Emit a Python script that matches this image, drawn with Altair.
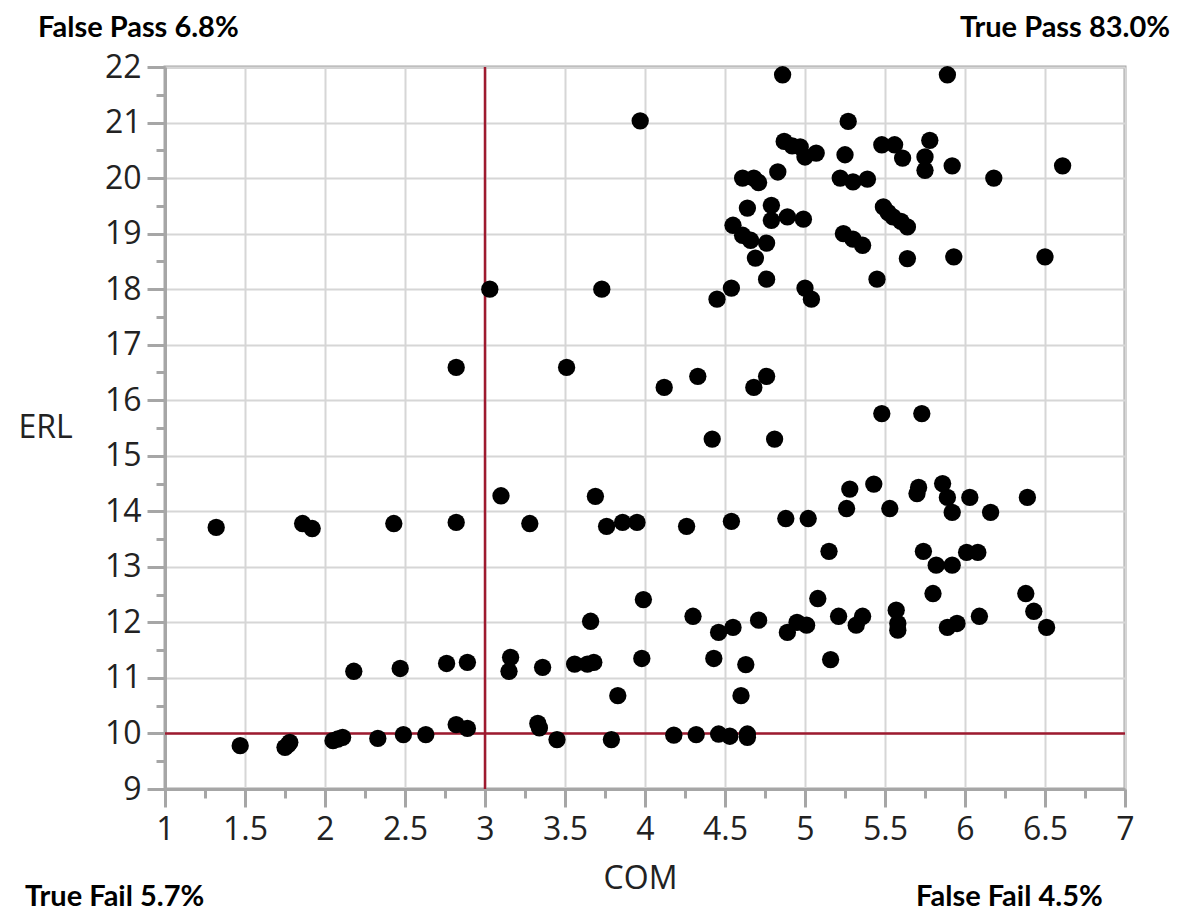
import altair as alt
import pandas as pd

# ---- data ----
com = [
    1.32, 1.86, 1.92, 2.43, 2.82, 2.18, 2.47, 2.76, 2.89, 2.82, 2.82, 2.89,
    1.47, 1.75, 1.78, 1.77, 2.05, 2.08, 2.11, 2.33, 2.49, 2.63,
    3.45, 3.79, 4.18, 4.32, 4.46, 4.53, 4.64, 4.64,
    3.33, 3.34, 3.16, 3.15, 3.36, 3.56, 3.64, 3.68, 3.98, 4.43, 4.63, 3.83, 4.60,
    3.99, 3.66, 4.30, 4.46, 4.55, 4.71, 4.89, 4.95, 5.01, 5.08, 5.16, 5.21, 5.32,
    5.36, 5.57, 5.58, 5.58, 5.80, 5.89, 5.95, 6.09, 6.38, 6.43, 6.51,
    3.10, 3.28, 3.69, 3.76, 3.86, 3.95, 4.26, 4.54, 4.88, 5.02, 5.15, 5.26, 5.28,
    5.43, 5.53, 5.70, 5.71, 5.74, 5.82, 5.92, 5.86, 5.89, 5.92, 6.03, 6.01, 6.08,
    6.16, 6.39,
    4.42, 4.81, 5.48, 5.73, 4.12, 4.33, 4.68, 4.76, 3.51,
    3.03, 3.73, 4.45, 4.54, 4.76, 5.00, 5.04,
    4.61, 4.68, 4.71, 4.83, 4.87, 4.92, 4.97, 5.00, 5.07, 5.25, 5.27, 4.86, 5.89,
    3.97, 5.22, 5.30, 5.39, 5.48, 5.56, 5.61, 5.78, 5.75, 5.75, 5.92, 6.18, 6.61,
    4.64, 4.79, 4.79, 4.89, 4.99, 4.55, 4.61, 4.66, 4.76, 4.69, 5.24, 5.30, 5.36,
    5.49, 5.52, 5.55, 5.60, 5.64, 5.64, 5.45, 5.93, 6.50,
]
erl = [
    13.71, 13.78, 13.69, 13.78, 13.80, 11.12, 11.17, 11.26, 11.28, 16.59, 10.16, 10.09,
    9.78, 9.75, 9.84, 9.80, 9.87, 9.90, 9.93, 9.91, 9.98, 9.98,
    9.89, 9.89, 9.97, 9.98, 9.99, 9.95, 9.99, 9.93,
    10.18, 10.10, 11.37, 11.12, 11.19, 11.25, 11.25, 11.28, 11.35, 11.35, 11.24, 10.68, 10.68,
    12.41, 12.02, 12.11, 11.82, 11.91, 12.04, 11.82, 12.00, 11.95, 12.43, 11.33, 12.11, 11.95,
    12.11, 12.22, 11.98, 11.86, 12.52, 11.91, 11.98, 12.11, 12.52, 12.20, 11.91,
    14.28, 13.78, 14.27, 13.73, 13.80, 13.80, 13.73, 13.82, 13.87, 13.87, 13.28, 14.05, 14.40,
    14.49, 14.05, 14.32, 14.43, 13.28, 13.03, 13.03, 14.50, 14.25, 13.98, 14.25, 13.26, 13.26,
    13.98, 14.25,
    15.30, 15.30, 15.76, 15.76, 16.23, 16.43, 16.23, 16.43, 16.59,
    18.00, 18.00, 17.82, 18.02, 18.18, 18.02, 17.82,
    20.00, 20.00, 19.92, 20.11, 20.66, 20.58, 20.56, 20.38, 20.45, 20.42, 21.02, 21.86, 21.86,
    21.03, 20.00, 19.93, 19.98, 20.60, 20.60, 20.36, 20.68, 20.38, 20.14, 20.22, 20.00, 20.22,
    19.46, 19.51, 19.24, 19.30, 19.26, 19.15, 18.97, 18.88, 18.83, 18.56, 19.00, 18.90, 18.79,
    19.48, 19.38, 19.30, 19.22, 19.12, 18.55, 18.18, 18.58, 18.58,
]

x_major = [1, 1.5, 2, 2.5, 3, 3.5, 4, 4.5, 5, 5.5, 6, 6.5, 7]
x_minor = [1.25, 1.75, 2.25, 2.75, 3.25, 3.75, 4.25, 4.75, 5.25, 5.75, 6.25, 6.75]
y_major = [9, 10, 11, 12, 13, 14, 15, 16, 17, 18, 19, 20, 21, 22]
y_minor = [9.5, 10.5, 11.5, 12.5, 13.5, 14.5, 15.5, 16.5, 17.5, 18.5, 19.5, 20.5, 21.5]
ref_com = [3]
ref_erl = [10]
corner_labels = ["False Pass 6.8%", "True Pass 83.0%", "True Fail 5.7%", "False Fail 4.5%"]

AXIS_GRAY = "#a6a6a6"
GRID_GRAY = "#d6d6d6"
RED = "#9e1a2f"
TXT = "#222222"
FONT = "Open Sans"

xscale = alt.Scale(domain=[1, 7], nice=False, zero=False)
yscale = alt.Scale(domain=[9, 22], nice=False, zero=False)

pts = pd.DataFrame({"COM": com, "ERL": erl})

x_axis_major = alt.Axis(
    orient="bottom", values=x_major, format="~g", grid=True, gridColor=GRID_GRAY, gridWidth=2,
    domainColor=AXIS_GRAY, domainWidth=3, tickColor=AXIS_GRAY, tickWidth=3, tickSize=18,
    labelFont=FONT, labelFontSize=32, labelColor=TXT, labelPadding=7, labelOverlap=False,
    labelFlush=False, title="COM", titleFont=FONT, titleFontSize=32, titleFontWeight="normal",
    titleColor=TXT, titleX=475, titleY=89, titleAlign="center", titleBaseline="middle",
)
y_axis_major = alt.Axis(
    orient="left", values=y_major, format="~g", grid=True, gridColor=GRID_GRAY, gridWidth=2,
    domainColor=AXIS_GRAY, domainWidth=3, tickColor=AXIS_GRAY, tickWidth=3, tickSize=18,
    labelFont=FONT, labelFontSize=32, labelColor=TXT, labelPadding=6, labelOverlap=False,
    labelFlush=False, title="ERL", titleFont=FONT, titleFontSize=32, titleFontWeight="normal",
    titleColor=TXT, titleAngle=0, titleX=-120, titleY=360, titleAlign="center",
    titleBaseline="middle",
)
x_axis_minor = alt.Axis(
    orient="bottom", values=x_minor, grid=False, labels=False, domain=False,
    tickColor=AXIS_GRAY, tickWidth=3, tickSize=9, title=None,
)
y_axis_minor = alt.Axis(
    orient="left", values=y_minor, grid=False, labels=False, domain=False,
    tickColor=AXIS_GRAY, tickWidth=3, tickSize=9, title=None,
)

vline = alt.Chart(pd.DataFrame({"c": ref_com})).mark_rule(color=RED, strokeWidth=2.5).encode(
    x=alt.X("c:Q", scale=xscale, axis=x_axis_minor)
)
hline = alt.Chart(pd.DataFrame({"e": ref_erl})).mark_rule(color=RED, strokeWidth=2.5).encode(
    y=alt.Y("e:Q", scale=yscale, axis=y_axis_minor)
)
points = alt.Chart(pts).mark_circle(size=300, color="black", opacity=1).encode(
    x=alt.X("COM:Q", scale=xscale, axis=x_axis_major),
    y=alt.Y("ERL:Q", scale=yscale, axis=y_axis_major),
)

def corner(label, xpos, ypos, align):
    return alt.Chart(pd.DataFrame({"t": [label]})).mark_text(
        font="Lato", fontSize=29, fontWeight="bold", color="black", align=align,
        baseline="alphabetic",
    ).encode(text="t:N", x=alt.value(xpos), y=alt.value(ypos))

texts = (
    corner(corner_labels[0], -127, -30, "left")
    + corner(corner_labels[1], 1005, -30, "right")
    + corner(corner_labels[2], -140, 839, "left")
    + corner(corner_labels[3], 751, 839, "left")
)

chart = (
    alt.layer(vline, hline, points, texts)
    .resolve_axis(x="independent", y="independent")
    .properties(
        width=960, height=722,
        padding={"left": 157, "top": 59, "right": 46, "bottom": 125},
        autosize=alt.AutoSizeParams(type="none"),
        background="white",
    )
    .configure_view(stroke=AXIS_GRAY, strokeWidth=3)
)

chart.save("out.html", embed_options={"renderer": "svg", "actions": False})
